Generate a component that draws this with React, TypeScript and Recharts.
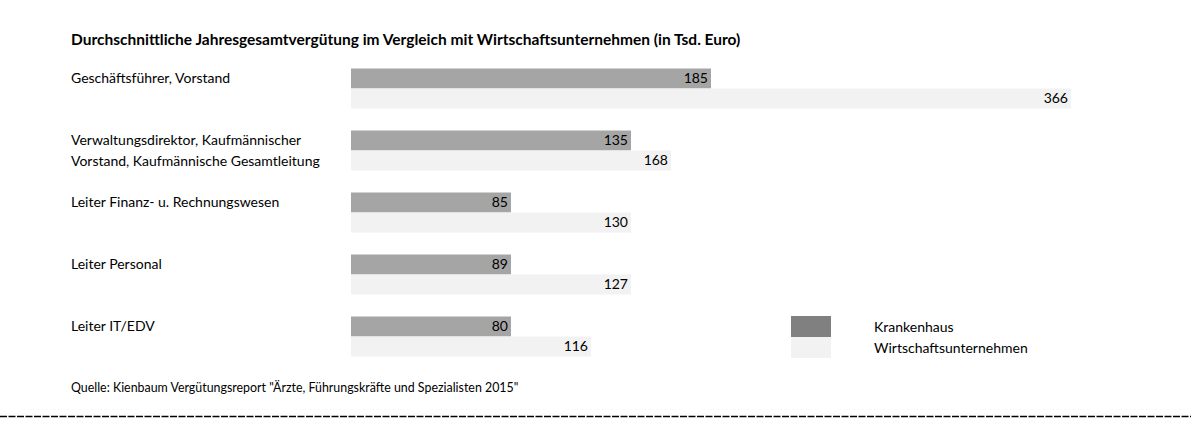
import React from 'react';
import { BarChart, Bar, XAxis, YAxis, LabelList } from 'recharts';

const categories = [
  'Geschäftsführer, Vorstand',
  'Verwaltungsdirektor, Kaufmännischer\nVorstand, Kaufmännische Gesamtleitung',
  'Leiter Finanz- u. Rechnungswesen',
  'Leiter Personal',
  'Leiter IT/EDV',
];
const krankenhausValues = [185, 135, 85, 89, 80];
const wirtschaftValues = [366, 168, 130, 127, 116];
// bar lengths as drawn in the source (snapped to 20er cells)
const krankenhausBars = [180, 140, 80, 80, 80];
const wirtschaftBars = [360, 160, 140, 140, 120];

const seriesNames = ['Krankenhaus', 'Wirtschaftsunternehmen'];
const seriesColors = ['#a5a5a5', '#f2f2f2'];
const legendColors = ['#808080', '#f2f2f2'];

const title = 'Durchschnittliche Jahresgesamtvergütung im Vergleich mit Wirtschaftsunternehmen (in Tsd. Euro)';
const source = 'Quelle: Kienbaum Vergütungsreport "Ärzte, Führungskräfte und Spezialisten 2015"';

const data = categories.map((name, i) => ({
  name,
  kh: krankenhausBars[i],
  khLabel: krankenhausValues[i],
  wu: wirtschaftBars[i],
  wuLabel: wirtschaftValues[i],
}));

const FONT = 'Lato, "Open Sans", sans-serif';

const CategoryTick = (props: any) => {
  const { y, payload } = props;
  const lines = String(payload.value).split('\n');
  return (
    <g>
      {lines.map((line, i) => (
        <text key={i} x={71} y={y - 10 + i * 21} dy="0.35em" fontSize={14} fill="#000" fontFamily={FONT} textAnchor="start">
          {line}
        </text>
      ))}
    </g>
  );
};

export default function App() {
  return (
    <div style={{ position: 'absolute', left: 0, top: 0, width: 1191, height: 422, background: '#fff', fontFamily: FONT }}>
      <div style={{ position: 'absolute', left: 71, top: 30, fontSize: 15.5, fontWeight: 700, color: '#000', whiteSpace: 'nowrap' }}>
        {title}
      </div>
      <BarChart
        width={1191}
        height={422}
        data={data}
        layout="vertical"
        margin={{ top: 57.5, right: 40, bottom: 54.5, left: 0 }}
        barGap={0}
        barSize={20}
      >
        <XAxis type="number" domain={[0, 400]} hide />
        <YAxis type="category" dataKey="name" width={351} axisLine={false} tickLine={false} tick={<CategoryTick />} interval={0} />
        <Bar dataKey="kh" name={seriesNames[0]} fill={seriesColors[0]} isAnimationActive={false}>
          <LabelList dataKey="khLabel" position="insideRight" offset={3} fill="#000" fontSize={14} fontFamily={FONT} />
        </Bar>
        <Bar dataKey="wu" name={seriesNames[1]} fill={seriesColors[1]} isAnimationActive={false}>
          <LabelList dataKey="wuLabel" position="insideRight" offset={3} fill="#000" fontSize={14} fontFamily={FONT} />
        </Bar>
      </BarChart>
      <div style={{ position: 'absolute', left: 791, top: 316, fontSize: 14, color: '#000' }}>
        {seriesNames.map((n, i) => (
          <div key={n} style={{ display: 'flex', alignItems: 'center', height: 21 }}>
            <div style={{ width: 40, height: 21, background: legendColors[i] }} />
            <span style={{ marginLeft: 43, whiteSpace: 'nowrap' }}>{n}</span>
          </div>
        ))}
      </div>
      <div style={{ position: 'absolute', left: 71, top: 380, fontSize: 12.4, color: '#000', whiteSpace: 'nowrap' }}>
        {source}
      </div>
      <svg style={{ position: 'absolute', left: 0, top: 410 }} width={1191} height={10}>
        <line x1={0} x2={1191} y1={6.5} y2={6.5} stroke="#000" strokeWidth={1.5} strokeDasharray="7 1.5" />
      </svg>
    </div>
  );
}
